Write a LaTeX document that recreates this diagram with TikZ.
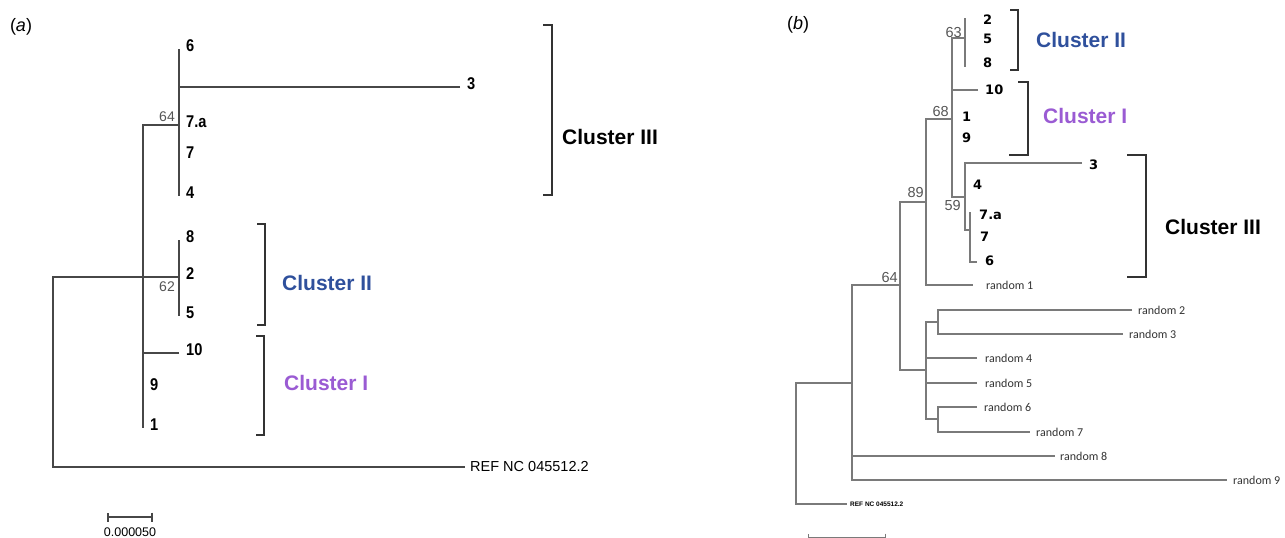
\documentclass[tikz,border=0pt]{standalone}
\usepackage{fontspec}
\setmainfont{Liberation Sans}
\newfontfamily\leafnarrow{Liberation Sans}[FakeStretch=0.86]
\newfontfamily\leafwide{DejaVu Sans}
\newfontfamily\randfont{Carlito}
\usepackage{xcolor}
\usepackage{tikz}
\usetikzlibrary{arrows.meta}
\definecolor{treegray}{HTML}{474747}
\definecolor{thingray}{HTML}{7A7A7A}
\definecolor{bootgray}{HTML}{555555}
\definecolor{bracketgray}{HTML}{333333}
\definecolor{clusterblue}{HTML}{2F509C}
\definecolor{clusterpurple}{HTML}{9A5BD3}

\begin{document}
\begin{tikzpicture}[x=1pt, y=-1pt,
    branch/.style={draw=treegray, line width=2pt},
    thinbranch/.style={draw=thingray, line width=1.1pt},
    bracket/.style={draw=bracketgray, line width=1.8pt},
    scalebar/.style={{Bar[width=9pt]}-{Bar[width=9pt]}, draw=treegray, line width=1.6pt},
    panel/.style={inner sep=0pt, font={\fontsize{18}{18}\selectfont}},
    leafa/.style={anchor=west, inner sep=0pt, xshift=7pt, yshift=3pt, font={\leafnarrow\bfseries\fontsize{17}{17}\selectfont}},
    leafb/.style={anchor=west, inner sep=0pt, font={\leafwide\bfseries\fontsize{13}{13}\selectfont}},
    randlab/.style={anchor=west, inner sep=0pt, text=black!80, font={\randfont\fontsize{12}{12}\selectfont}},
    reflab/.style={anchor=west, inner sep=0pt, font={\fontsize{14.5}{14.5}\selectfont}},
    boota/.style={inner sep=1pt, text=bootgray, font={\fontsize{14}{14}\selectfont}},
    bootb/.style={inner sep=1pt, text=bootgray, font={\fontsize{14.5}{14.5}\selectfont}},
    clusterlab/.style={anchor=west, inner sep=0pt, font={\bfseries\fontsize{21}{21}\selectfont}}
]
\useasboundingbox (0,0) rectangle (1285,538);

% ---------- panel (a)
\node[panel] (pa) at (21,27) {(\textit{a})};

\coordinate (aroot) at (53,277);
\coordinate (aA) at (143,277);
\coordinate (a64) at (179,125);
\coordinate (a62) at (179,277);
\coordinate (ta6) at (179,49);
\coordinate (ta3) at (460,87);
\coordinate (ta7a) at (179,125);
\coordinate (ta7) at (179,156);
\coordinate (ta4) at (179,196);
\coordinate (ta8) at (179,240);
\coordinate (ta2) at (179,277);
\coordinate (ta5) at (179,316);
\coordinate (ta10) at (179,353);
\coordinate (ta9) at (143,388);
\coordinate (ta1) at (143,428);
\coordinate (taref) at (465,467);

\draw[branch] (aA) -- (aroot) |- (taref);
\draw[branch] (a64) -| (aA) -- (ta1);
\draw[branch] (aA) -- (a62);
\draw[branch] (ta10) -- (ta10 -| aA);
\draw[branch] (ta6) -- (ta4);
\draw[branch] (ta3) -- (ta3 -| a64);
\draw[branch] (ta8) -- (ta5);

\node[leafa] (la6) at (ta6) {6};
\node[leafa] (la3) at (ta3) {3};
\node[leafa] (la7a) at (ta7a) {7.a};
\node[leafa] (la7) at (ta7) {7};
\node[leafa] (la4) at (ta4) {4};
\node[leafa] (la8) at (ta8) {8};
\node[leafa] (la2) at (ta2) {2};
\node[leafa] (la5) at (ta5) {5};
\node[leafa] (la10) at (ta10) {10};
\node[leafa] (la9) at (ta9) {9};
\node[leafa] (la1) at (ta1) {1};
\node[reflab] (laref) at (470,467) {REF NC 045512.2};

\node[boota, anchor=south east] (ba64) at (176,123) {64};
\node[boota, anchor=north east] (ba62) at (176,281) {62};

\draw[bracket] (543,25) -- (552,25) -- (552,195) -- (543,195);
\node[clusterlab] (ca3) at (562,137) {Cluster III};
\draw[bracket] (257,224) -- (265,224) -- (265,325) -- (257,325);
\node[clusterlab, text=clusterblue] (ca2) at (282,283) {Cluster II};
\draw[bracket] (256,336) -- (264,336) -- (264,435) -- (256,435);
\node[clusterlab, text=clusterpurple] (ca1) at (284,383) {Cluster I};

\coordinate (sa1) at (107,517);
\coordinate (sa2) at (153,517);
\draw[scalebar] (sa1) -- (sa2);
\node[inner sep=0pt, font={\fontsize{12.5}{12.5}\selectfont}] (sal) at (130,532) {0.000050};

% ---------- panel (b)
\node[panel] (pb) at (798,25) {(\textit{b})};

\coordinate (broot) at (796,383);
\coordinate (bN) at (852,383);
\coordinate (b64) at (900,285);
\coordinate (b89) at (926,202);
\coordinate (b68) at (952,119);
\coordinate (b63) at (965,38);
\coordinate (b59) at (965,197);
\coordinate (bX) at (970,230);
\coordinate (bC) at (926,370);
\coordinate (bC1) at (938,322);
\coordinate (bC2) at (938,419);
\coordinate (tb2) at (965,18);
\coordinate (tb8) at (965,67);
\coordinate (tb10) at (978,90);
\coordinate (tb3) at (1082,163);
\coordinate (tb7a) at (970,212);
\coordinate (tb6) at (977,262);
\coordinate (tbr1) at (973,285);
\coordinate (tbr2) at (1132,310);
\coordinate (tbr3) at (1123,334);
\coordinate (tbr4) at (977,358);
\coordinate (tbr5) at (977,383);
\coordinate (tbr6) at (977,407);
\coordinate (tbr7) at (1030,432);
\coordinate (tbr8) at (1055,456);
\coordinate (tbr9) at (1227,480);
\coordinate (tbref) at (847,504);

\draw[thinbranch] (bN) -- (broot) |- (tbref);
\draw[thinbranch] (b64) -| (bN) |- (tbr9);
\draw[thinbranch] (bN |- tbr8) -- (tbr8);
\draw[thinbranch] (b89) -| (b64) |- (bC);
\draw[thinbranch] (b68) -| (b89) |- (tbr1);
\draw[thinbranch] (b63) -| (b68) |- (b59);
\draw[thinbranch] (tb10) -- (tb10 -| b68);
\draw[thinbranch] (tb2) -- (tb8);
\draw[thinbranch] (tb3) -| (b59) |- (bX);
\draw[thinbranch] (tb7a) -- (bX) |- (tb6);
\draw[thinbranch] (bC1) -| (bC) |- (bC2);
\draw[thinbranch] (tbr4) -- (tbr4 -| bC);
\draw[thinbranch] (tbr5) -- (tbr5 -| bC);
\draw[thinbranch] (tbr2) -| (bC1) |- (tbr3);
\draw[thinbranch] (tbr6) -| (bC2) |- (tbr7);

\node[leafb] (lb2) at (983,20) {2};
\node[leafb] (lb5) at (983,39) {5};
\node[leafb] (lb8) at (983,63) {8};
\node[leafb] (lb10) at (985,90) {10};
\node[leafb] (lb1) at (962,117) {1};
\node[leafb] (lb9) at (962,138) {9};
\node[leafb] (lb3) at (1089,165) {3};
\node[leafb] (lb4) at (973,185) {4};
\node[leafb] (lb7a) at (979,215) {7.a};
\node[leafb] (lb7) at (980,237) {7};
\node[leafb] (lb6) at (985,261) {6};

\node[randlab] (lr1) at (986,285) {random 1};
\node[randlab] (lr2) at (1138,310) {random 2};
\node[randlab] (lr3) at (1129,334) {random 3};
\node[randlab] (lr4) at (985,358) {random 4};
\node[randlab] (lr5) at (985,383) {random 5};
\node[randlab] (lr6) at (984,407) {random 6};
\node[randlab] (lr7) at (1036,432) {random 7};
\node[randlab] (lr8) at (1060,456) {random 8};
\node[randlab] (lr9) at (1233,480) {random 9};
\node[anchor=west, inner sep=0pt, font={\bfseries\fontsize{6.5}{6.5}\selectfont}] (lbref) at (850,504) {REF NC 045512.2};

\node[bootb, anchor=south east] (bb63) at (963,39) {63};
\node[bootb, anchor=south east] (bb68) at (950,118) {68};
\node[bootb, anchor=south east] (bb89) at (925,199) {89};
\node[bootb, anchor=north east] (bb59) at (962,199) {59};
\node[bootb, anchor=south east] (bb64) at (899,284) {64};

\draw[bracket] (1010,10) -- (1018,10) -- (1018,70) -- (1010,70);
\node[clusterlab, text=clusterblue] (cb2) at (1036,40) {Cluster II};
\draw[bracket] (1018,82) -- (1028,82) -- (1028,155) -- (1009,155);
\node[clusterlab, text=clusterpurple] (cb1) at (1043,116) {Cluster I};
\draw[bracket] (1127,155) -- (1146,155) -- (1146,277) -- (1127,277);
\node[clusterlab] (cb3) at (1165,227) {Cluster III};

\coordinate (sb1) at (808,538);
\coordinate (sb2) at (886,538);
\draw[{Bar[width=9pt]}-{Bar[width=9pt]}, draw=thingray, line width=1.1pt] (sb1) -- (sb2);
\end{tikzpicture}
\end{document}
